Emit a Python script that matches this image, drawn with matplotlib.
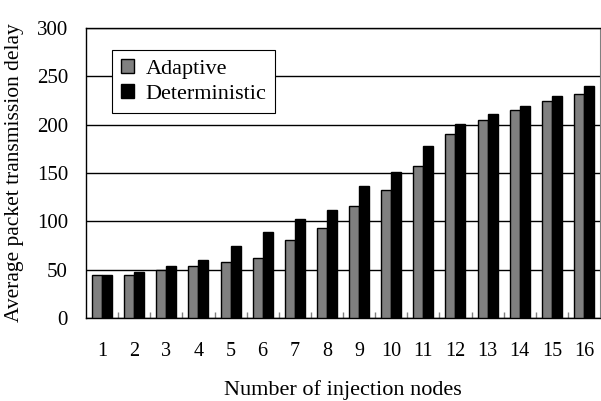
import numpy as np
import matplotlib
matplotlib.use("Agg")
import matplotlib.pyplot as plt
from matplotlib.ticker import MultipleLocator

# ---- data -----------------------------------------------------------
nodes = list(range(1, 17))
adaptive = [45, 45, 50, 54, 58, 62, 81, 93, 116, 132, 157, 190, 205, 215, 224, 232]
deterministic = [45, 48, 54, 60, 75, 89, 102, 112, 137, 151, 178, 201, 211, 219, 230, 240]

plt.rcParams["font.family"] = ["Liberation Serif", "DejaVu Serif"]

fig = plt.figure(figsize=(6.01, 4.01), dpi=100)
ax = fig.add_axes([86 / 601, 1 - 318 / 401, 514 / 601, 290 / 401])

x = np.arange(len(nodes))
w = 0.31
ax.bar(x - w / 2, adaptive, w, color="#808080", edgecolor="black", linewidth=1.0,
       label="Adaptive", zorder=3)
ax.bar(x + w / 2, deterministic, w, color="black", edgecolor="black", linewidth=1.0,
       label="Deterministic", zorder=3)

ax.set_xlim(-0.5, len(nodes) - 0.5)
ax.set_ylim(0, 300)
ax.yaxis.set_major_locator(MultipleLocator(50))
ax.yaxis.grid(True, color="black", linewidth=1.0, zorder=0)
ax.set_axisbelow(True)

ax.set_xticks(x)
ax.set_xticklabels([str(n) for n in nodes])
ax.tick_params(axis="x", length=0, pad=17, labelsize=14.5)
ax.tick_params(axis="y", length=0, pad=13, labelsize=15)
# category separators pointing up from the x axis
ax.set_xticks(np.arange(0.5, len(nodes) - 1, 1.0), minor=True)
ax.tick_params(axis="x", which="minor", direction="in", length=4, color="#808080", width=1.0)

for s in ["left", "bottom", "top"]:
    ax.spines[s].set_linewidth(1.0)
ax.spines["right"].set_color("#808080")

ax.set_xlabel("Number of injection nodes", fontsize=16, labelpad=14)
ax.set_ylabel("Average packet transmission delay", fontsize=15.5, labelpad=9)

leg = ax.legend(loc="upper left", bbox_to_anchor=(26 / 514, 1 - 22 / 290),
                fancybox=False, framealpha=1, edgecolor="black",
                handlelength=0.6, handleheight=0.6, handletextpad=0.5,
                borderpad=0.4, labelspacing=0.25, borderaxespad=0, fontsize=16)
leg.get_frame().set_linewidth(0.8)

fig.savefig("out.png", dpi=100)
